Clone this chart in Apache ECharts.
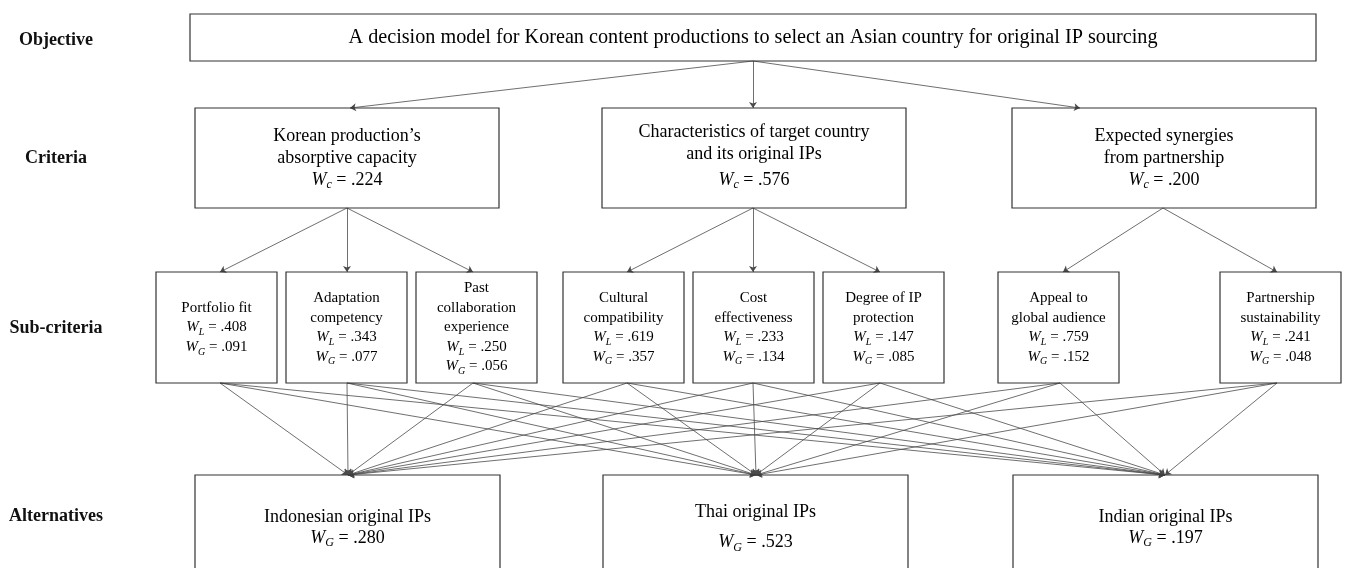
<!DOCTYPE html>
<html>
<head>
<meta charset="utf-8">
<script src="https://cdn.jsdelivr.net/npm/echarts@6/dist/echarts.min.js"></script>
<style>
    html, body { margin: 0; padding: 0; background: #fff; }
    #main { width: 1345px; height: 568px; }
</style>
</head>
<body>
<div id="main"></div>
<script>
    // 层级与数据
    const levelLabels = ['Objective', 'Criteria', 'Sub-criteria', 'Alternatives'];
    const objectiveText = 'A decision model for Korean content productions to select an Asian country for original IP sourcing';
    const criteriaNames = ['Korean production\u2019s\nabsorptive capacity', 'Characteristics of target country\nand its original IPs', 'Expected synergies\nfrom partnership'];
    const criteriaWeights = ['.224', '.576', '.200'];
    const subNames = ['Portfolio fit', 'Adaptation\ncompetency', 'Past\ncollaboration\nexperience', 'Cultural\ncompatibility',
        'Cost\neffectiveness', 'Degree of IP\nprotection', 'Appeal to\nglobal audience', 'Partnership\nsustainability'];
    const subParent = [0, 0, 0, 1, 1, 1, 2, 2];
    const subLocal = ['.408', '.343', '.250', '.619', '.233', '.147', '.759', '.241'];
    const subGlobal = ['.091', '.077', '.056', '.357', '.134', '.085', '.152', '.048'];
    const altNames = ['Indonesian original IPs', 'Thai original IPs', 'Indian original IPs'];
    const altWeights = ['.280', '.523', '.197'];

    // 布局 (像素)
    const W = 1345, H = 568;
    const SERIF = '"Liberation Serif", "Times New Roman", serif';
    const objBox = {x: 190, y: 14, w: 1126, h: 47};
    const critX = [195, 602, 1012], critY = 108, critW = 304, critH = 100;
    const critLh = [22, 22, 22], critWl = [22, 30, 22];
    const subX = [156, 286, 416, 563, 693, 823, 998, 1220], subY = 272, subW = 121, subH = 111;
    const altX = [195, 603, 1013], altY = 475, altW = 305, altH = 105;
    const altLh = [21, 30, 21];
    const critIn = [350, 753, 1080];
    const critOut = [347, 753, 1163];
    const subIn = [220, 347, 473, 627, 753, 880, 1063, 1277];
    const subOut = [220, 347, 473, 627, 753, 880, 1060, 1277];
    const altIn = [348, 756, 1165];
    const levelLabelY = [40, 158, 328, 516];

    function richStyle(fs, lh, wl) {
        const sub = Math.round(fs * 0.68);
        return {
            t: {fontFamily: SERIF, fontSize: fs, lineHeight: lh, color: '#111'},
            tw: {fontFamily: SERIF, fontSize: fs, lineHeight: wl, color: '#111'},
            w: {fontFamily: SERIF, fontSize: fs, lineHeight: wl, fontStyle: 'italic', color: '#111'},
            s: {fontFamily: SERIF, fontSize: sub, lineHeight: wl, fontStyle: 'italic', color: '#111', padding: [10, 0, 0, 0]}
        };
    }
    function nameLines(name) {
        return name.split('\n').map(l => '{t|' + l + '}');
    }
    function weightLine(sub, val) {
        return '{w|W}{s|' + sub + '}{tw| = ' + val + '}';
    }

    // 方框
    let boxes = [];
    boxes.push({x: objBox.x, y: objBox.y, w: objBox.w, h: objBox.h, text: '{t|' + objectiveText + '}', fs: 20.2, lh: 24, wl: 24});
    criteriaNames.forEach((n, i) => {
        boxes.push({x: critX[i], y: critY, w: critW, h: critH,
            text: nameLines(n).concat([weightLine('c', criteriaWeights[i])]).join('\n'), fs: 18, lh: critLh[i], wl: critWl[i]});
    });
    subNames.forEach((n, i) => {
        boxes.push({x: subX[i], y: subY, w: subW, h: subH,
            text: nameLines(n).concat([weightLine('L', subLocal[i]), weightLine('G', subGlobal[i])]).join('\n'), fs: 15, lh: 19.5, wl: 19.5});
    });
    altNames.forEach((n, i) => {
        boxes.push({x: altX[i], y: altY, w: altW, h: altH,
            text: nameLines(n).concat([weightLine('G', altWeights[i])]).join('\n'), fs: 18, lh: altLh[i], wl: altLh[i]});
    });

    // 连线
    let links = [];
    critIn.forEach(x => links.push({coords: [[753, objBox.y + objBox.h], [x, critY]]}));
    subParent.forEach((p, i) => links.push({coords: [[critOut[p], critY + critH], [subIn[i], subY]]}));
    subOut.forEach(sx => altIn.forEach(ax => links.push({coords: [[sx, subY + subH], [ax, altY]]})));

    let myChart = echarts.init(document.getElementById('main'));
    let option = {
        animation: false,
        grid: {left: 0, right: 0, top: 0, bottom: 0},
        xAxis: {type: 'value', min: 0, max: W, show: false},
        yAxis: {type: 'value', min: 0, max: H, inverse: true, show: false},
        series: [
            {
                type: 'lines',
                coordinateSystem: 'cartesian2d',
                symbol: ['none', 'arrow'],
                symbolSize: 6,
                lineStyle: {color: '#4a4a4a', width: 0.8, opacity: 1},
                z: 1,
                data: links
            },
            {
                type: 'custom',
                coordinateSystem: 'cartesian2d',
                z: 2,
                data: boxes.map((b, i) => [i]),
                renderItem: function (params, api) {
                    const b = boxes[api.value(0)];
                    const p0 = api.coord([b.x, b.y]);
                    const p1 = api.coord([b.x + b.w, b.y + b.h]);
                    return {
                        type: 'group',
                        children: [
                            {
                                type: 'rect',
                                shape: {x: p0[0], y: p0[1], width: p1[0] - p0[0], height: p1[1] - p0[1]},
                                style: {fill: 'none', stroke: '#333', lineWidth: 1.2}
                            },
                            {
                                type: 'text',
                                style: {
                                    x: (p0[0] + p1[0]) / 2, y: (p0[1] + p1[1]) / 2,
                                    text: b.text, rich: richStyle(b.fs, b.lh, b.wl),
                                    align: 'center', verticalAlign: 'middle'
                                }
                            }
                        ]
                    };
                }
            },
            {
                type: 'custom',
                coordinateSystem: 'cartesian2d',
                z: 2,
                data: levelLabels.map((l, i) => [i]),
                renderItem: function (params, api) {
                    const i = api.value(0);
                    const p = api.coord([56, levelLabelY[i]]);
                    return {
                        type: 'text',
                        style: {
                            x: p[0], y: p[1], text: levelLabels[i],
                            font: 'bold 18px ' + SERIF, fill: '#111',
                            align: 'center', verticalAlign: 'middle'
                        }
                    };
                }
            }
        ]
    };
    myChart.setOption(option);
</script>
</body>
</html>
